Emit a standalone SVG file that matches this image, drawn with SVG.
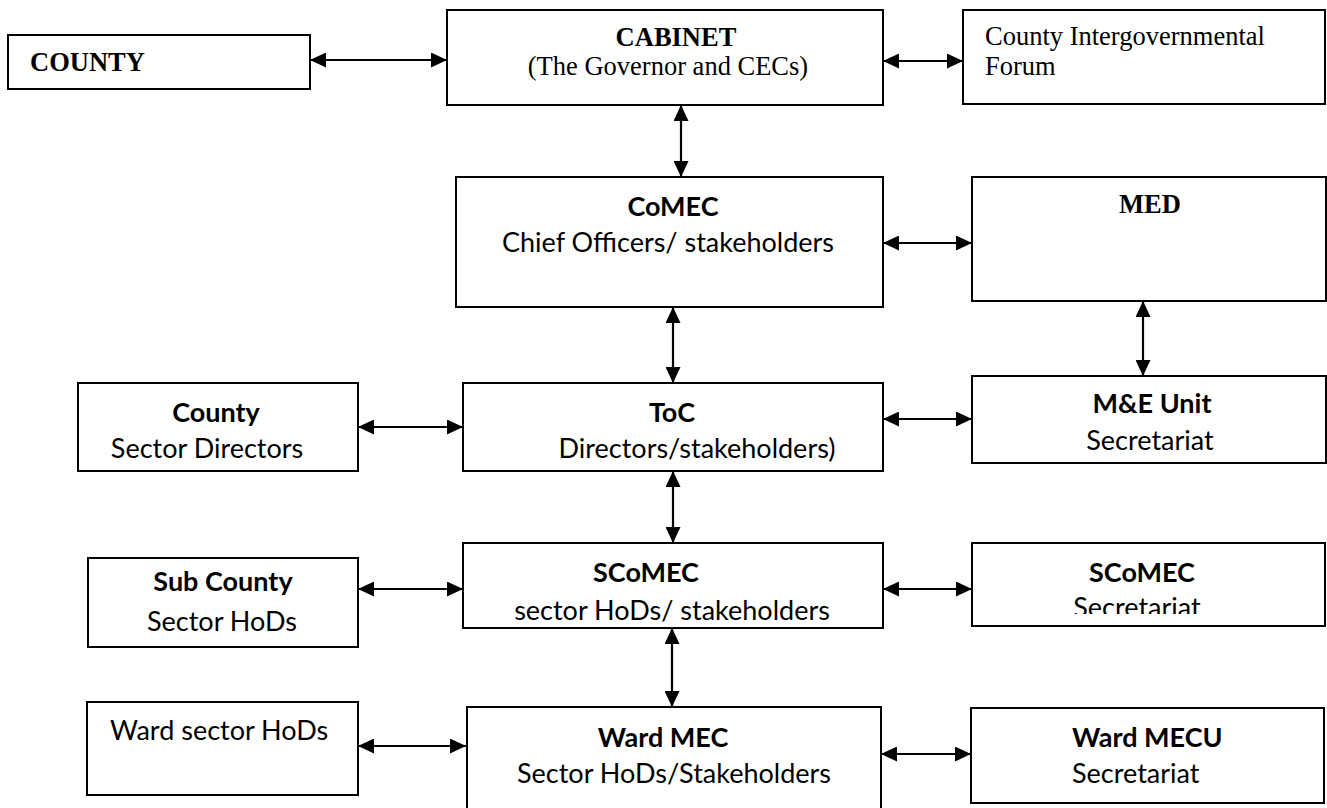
<svg xmlns="http://www.w3.org/2000/svg" width="1327" height="808" viewBox="0 0 1327 808">
<style>
.box{fill:#fff;stroke:#000;stroke-width:2}
.tr{font-family:"Liberation Serif","Times New Roman",serif;font-size:26.5px;fill:#000}
.ca{font-family:Lato,"Open Sans",sans-serif;font-size:27px;fill:#000}
.b{font-weight:bold}
.m{text-anchor:middle}
.con line{stroke:#000;stroke-width:2.2;marker-start:url(#ah);marker-end:url(#ah)}
</style>
<defs>
<marker id="ah" viewBox="0 0 10 10" refX="10" refY="5" markerWidth="16" markerHeight="15" markerUnits="userSpaceOnUse" orient="auto-start-reverse" preserveAspectRatio="none"><path d="M0,0 L10,5 L0,10 z" fill="#000"/></marker>
<clipPath id="clipsec"><rect x="960" y="540" width="367" height="74"/></clipPath>
</defs>
<rect width="1327" height="808" fill="#fff"/>
<g id="county"><rect class="box" x="8" y="35" width="302" height="54"/><text class="tr b" x="30" y="71">COUNTY</text></g>
<g id="cabinet"><rect class="box" x="447" y="10" width="436" height="95"/><text class="tr b m" x="676" y="46">CABINET</text><text class="tr m" x="668" y="75">(The Governor and CECs)</text></g>
<g id="cif"><rect class="box" x="963" y="10" width="362" height="94"/><text class="tr" x="985" y="45">County Intergovernmental</text><text class="tr" x="985" y="75">Forum</text></g>
<g id="comec"><rect class="box" x="456" y="177" width="427" height="130"/><text class="ca b m" x="673" y="216">CoMEC</text><text class="ca m" x="668" y="252">Chief Officers/ stakeholders</text></g>
<g id="med"><rect class="box" x="972" y="177" width="354" height="124"/><text class="tr b m" x="1150" y="213">MED</text></g>
<g id="county-sd"><rect class="box" x="78" y="383" width="280" height="88"/><text class="ca b m" x="216" y="422">County</text><text class="ca m" x="207" y="458">Sector Directors</text></g>
<g id="toc"><rect class="box" x="463" y="383" width="420" height="88"/><text class="ca b m" x="672" y="422">ToC</text><text class="ca m" x="697" y="458">Directors/stakeholders)</text></g>
<g id="meu"><rect class="box" x="972" y="376" width="354" height="87"/><text class="ca b m" x="1152" y="413">M&amp;E Unit</text><text class="ca m" x="1150" y="450">Secretariat</text></g>
<g id="subcounty"><rect class="box" x="88" y="558" width="270" height="89"/><text class="ca b m" x="223" y="591">Sub County</text><text class="ca m" x="222" y="631">Sector HoDs</text></g>
<g id="scomec"><rect class="box" x="463" y="543" width="420" height="85"/><text class="ca b m" x="646" y="582">SCoMEC</text><text class="ca m" x="672" y="620">sector HoDs/ stakeholders</text></g>
<g id="scomec-sec"><rect class="box" x="972" y="543" width="353" height="83"/><text class="ca b m" x="1142" y="582">SCoMEC</text><text class="ca m" x="1137" y="617" clip-path="url(#clipsec)">Secretariat</text></g>
<g id="ward-hods"><rect class="box" x="87" y="702" width="271" height="93"/><text class="ca" x="110" y="740">Ward sector HoDs</text></g>
<g id="wardmec"><path d="M467,808 V707 H881 V808" fill="#fff" stroke="#000" stroke-width="2"/><text class="ca b m" x="663" y="747">Ward MEC</text><text class="ca m" x="674" y="783">Sector HoDs/Stakeholders</text></g>
<g id="wardmecu"><rect class="box" x="971" y="708" width="353" height="95"/><text class="ca b" x="1072" y="747">Ward MECU</text><text class="ca" x="1072" y="783">Secretariat</text></g>
<g id="connectors" class="con">
<line x1="310" y1="60" x2="447" y2="60"/>
<line x1="883" y1="61" x2="963" y2="61"/>
<line x1="681" y1="105" x2="681" y2="177"/>
<line x1="883" y1="243" x2="972" y2="243"/>
<line x1="673" y1="307" x2="673" y2="383"/>
<line x1="1143" y1="301" x2="1143" y2="376"/>
<line x1="358" y1="427" x2="463" y2="427"/>
<line x1="883" y1="419" x2="972" y2="419"/>
<line x1="673" y1="471" x2="673" y2="543"/>
<line x1="358" y1="589" x2="463" y2="589"/>
<line x1="883" y1="589" x2="972" y2="589"/>
<line x1="672" y1="628" x2="672" y2="707"/>
<line x1="358" y1="746" x2="466" y2="746"/>
<line x1="881" y1="754" x2="971" y2="754"/>
</g>
</svg>
